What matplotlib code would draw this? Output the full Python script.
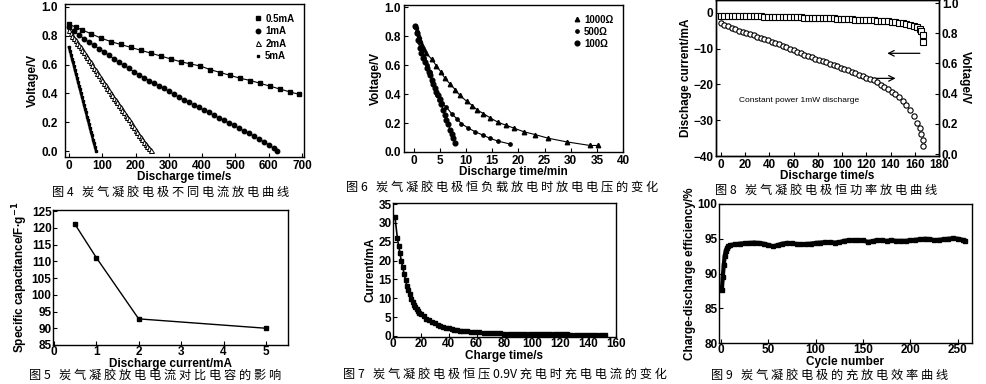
import matplotlib
matplotlib.use("Agg")
import matplotlib.pyplot as plt

plt.rcParams['font.family'] = ['Liberation Sans', 'DejaVu Sans']
plt.rcParams['font.weight'] = 'bold'
plt.rcParams['axes.labelweight'] = 'bold'
plt.rcParams['axes.linewidth'] = 1.0

# ---------------- Fig 4 data ----------------
f4_t_05 = [0, 20, 40, 65, 95, 125, 155, 185, 215, 245, 275, 305, 335, 365, 395, 425, 455, 485, 515, 545, 575, 605, 635, 665, 690]
f4_v_05 = [0.88, 0.86, 0.84, 0.815, 0.785, 0.76, 0.74, 0.72, 0.70, 0.68, 0.66, 0.64, 0.62, 0.605, 0.59, 0.565, 0.545, 0.525, 0.505, 0.49, 0.47, 0.45, 0.43, 0.41, 0.395]
f4_t_1 = [0, 15, 30, 45, 60, 75, 90, 105, 120, 135, 150, 165, 180, 195, 210, 225, 240, 255, 270, 285, 300, 315, 330, 345, 360, 375, 390, 405, 420, 435, 450, 465, 480, 495, 510, 525, 540, 555, 570, 585, 600, 615, 625]
f4_v_1 = [0.86, 0.83, 0.805, 0.78, 0.755, 0.735, 0.71, 0.69, 0.665, 0.64, 0.615, 0.595, 0.575, 0.55, 0.53, 0.51, 0.49, 0.47, 0.455, 0.435, 0.415, 0.395, 0.375, 0.355, 0.34, 0.32, 0.305, 0.285, 0.27, 0.25, 0.23, 0.215, 0.195, 0.18, 0.16, 0.14, 0.125, 0.105, 0.085, 0.065, 0.045, 0.02, 0.0]
f4_t_2 = [0, 5, 10, 15, 20, 25, 30, 35, 40, 45, 50, 55, 60, 65, 70, 75, 80, 85, 90, 95, 100, 105, 110, 115, 120, 125, 130, 135, 140, 145, 150, 155, 160, 165, 170, 175, 180, 185, 190, 195, 200, 205, 210, 215, 220, 225, 230, 235, 240, 245]
f4_v_2 = [0.84, 0.82, 0.80, 0.785, 0.77, 0.75, 0.735, 0.72, 0.70, 0.685, 0.665, 0.65, 0.635, 0.615, 0.60, 0.58, 0.565, 0.545, 0.53, 0.51, 0.495, 0.475, 0.46, 0.44, 0.425, 0.405, 0.39, 0.37, 0.355, 0.34, 0.32, 0.305, 0.285, 0.27, 0.25, 0.235, 0.22, 0.20, 0.185, 0.165, 0.15, 0.135, 0.115, 0.10, 0.085, 0.065, 0.05, 0.035, 0.02, 0.01]
f4_t_5 = [0, 3, 6, 9, 12, 15, 18, 21, 24, 27, 30, 33, 36, 39, 42, 45, 48, 51, 54, 57, 60, 63, 66, 69, 72, 75, 78, 81]
f4_v_5 = [0.72, 0.695, 0.67, 0.64, 0.615, 0.59, 0.56, 0.535, 0.51, 0.48, 0.455, 0.43, 0.40, 0.375, 0.35, 0.32, 0.295, 0.27, 0.24, 0.215, 0.19, 0.16, 0.135, 0.11, 0.08, 0.055, 0.03, 0.005]
f4_labels = ['0.5mA', '1mA', '2mA', '5mA']

# ---------------- Fig 6 data ----------------
f6_t_1000 = [0.4, 0.6, 0.9, 1.2, 1.5, 1.9, 2.4, 3.4, 4.3, 5.1, 5.9, 6.9, 7.9, 8.8, 10.1, 11.2, 12.1, 13.3, 14.6, 16.1, 17.6, 19.1, 21.0, 23.2, 25.7, 29.2, 33.7, 35.2]
f6_v_1000 = [0.87, 0.84, 0.80, 0.77, 0.74, 0.71, 0.68, 0.64, 0.595, 0.555, 0.51, 0.47, 0.43, 0.39, 0.35, 0.32, 0.29, 0.265, 0.235, 0.205, 0.185, 0.165, 0.14, 0.12, 0.095, 0.07, 0.045, 0.045]
f6_t_500 = [0.3, 0.6, 1.0, 1.5, 2.0, 2.5, 3.0, 3.5, 4.0, 4.5, 4.8, 5.3, 6.2, 7.2, 8.2, 9.1, 10.4, 11.7, 13.3, 14.5, 16.1, 18.4]
f6_v_500 = [0.86, 0.82, 0.76, 0.70, 0.65, 0.60, 0.55, 0.49, 0.44, 0.39, 0.36, 0.34, 0.31, 0.265, 0.23, 0.195, 0.165, 0.14, 0.115, 0.095, 0.075, 0.055]
f6_t_100 = [0.3, 0.5, 0.8, 1.1, 1.4, 1.8, 2.1, 2.5, 2.8, 3.1, 3.4, 3.7, 4.0, 4.3, 4.6, 4.9, 5.2, 5.6, 5.9, 6.2, 6.6, 6.9, 7.2, 7.5, 7.9]
f6_v_100 = [0.87, 0.82, 0.77, 0.72, 0.68, 0.65, 0.62, 0.58, 0.555, 0.53, 0.50, 0.47, 0.44, 0.415, 0.39, 0.365, 0.33, 0.29, 0.255, 0.22, 0.19, 0.155, 0.125, 0.095, 0.06]
f6_labels = ['1000Ω', '500Ω', '100Ω']

# ---------------- Fig 8 data ----------------
f8_t = [0, 3, 6, 9, 12, 15, 18, 21, 24, 27, 30, 33, 36, 39, 42, 45, 48, 51, 54, 57, 60, 63, 66, 69, 72, 75, 78, 81, 84, 87, 90, 93, 96, 99, 102, 105, 108, 111, 114, 117, 120, 123, 126, 129, 132, 135, 138, 141, 144, 147, 150, 153, 156, 159, 162, 164, 165.5, 166.5, 167]
f8_current = [-0.8, -0.8, -0.85, -0.85, -0.9, -0.9, -0.9, -0.95, -0.95, -1.0, -1.0, -1.0, -1.05, -1.05, -1.1, -1.1, -1.1, -1.15, -1.15, -1.2, -1.2, -1.25, -1.25, -1.3, -1.3, -1.35, -1.35, -1.4, -1.45, -1.5, -1.5, -1.55, -1.6, -1.65, -1.7, -1.75, -1.8, -1.85, -1.9, -1.95, -2.0, -2.05, -2.1, -2.15, -2.2, -2.3, -2.4, -2.5, -2.6, -2.75, -2.9, -3.05, -3.3, -3.6, -4.0, -4.5, -5.2, -6.2, -8.0]
f8_voltage = [0.868, 0.856, 0.845, 0.835, 0.826, 0.818, 0.81, 0.803, 0.795, 0.786, 0.778, 0.769, 0.761, 0.753, 0.744, 0.736, 0.727, 0.717, 0.707, 0.697, 0.688, 0.678, 0.668, 0.659, 0.649, 0.641, 0.632, 0.624, 0.615, 0.607, 0.598, 0.59, 0.581, 0.573, 0.564, 0.554, 0.545, 0.535, 0.526, 0.516, 0.506, 0.496, 0.487, 0.477, 0.46, 0.445, 0.428, 0.41, 0.395, 0.375, 0.35, 0.325, 0.29, 0.25, 0.205, 0.17, 0.13, 0.09, 0.055]

# ---------------- Fig 5 data ----------------
f5_current = [0.5, 1, 2, 5]
f5_capacitance = [121.0, 111.1, 92.8, 90.0]

# ---------------- Fig 7 data ----------------
f7_t = [1.4, 3.1, 4, 5, 6, 7, 8, 9, 10, 11, 12, 13, 14, 15, 16, 17, 18, 19, 20, 22, 24, 26, 28, 30, 32, 34, 36, 38, 40, 42, 44, 46, 48, 50, 53, 56, 59, 62, 65, 68, 71, 74, 77, 80, 83, 86, 89, 92, 95, 98, 101, 104, 107, 110, 113, 116, 119, 122, 125, 128, 131, 134, 137, 140, 143, 146, 149, 152]
f7_i = [31.6, 26.1, 24.0, 22.0, 19.8, 18.2, 16.5, 14.9, 13.3, 12.2, 11.0, 9.9, 9.0, 8.3, 7.7, 7.1, 6.6, 6.2, 5.8, 5.2, 4.6, 4.1, 3.7, 3.3, 3.0, 2.7, 2.4, 2.2, 2.0, 1.8, 1.65, 1.5, 1.4, 1.3, 1.2, 1.1, 1.0, 0.9, 0.85, 0.8, 0.75, 0.7, 0.65, 0.6, 0.58, 0.55, 0.5, 0.48, 0.46, 0.45, 0.44, 0.43, 0.42, 0.41, 0.4, 0.39, 0.38, 0.38, 0.37, 0.36, 0.36, 0.35, 0.35, 0.34, 0.34, 0.33, 0.33, 0.32]

# ---------------- Fig 9 data ----------------
f9_cycle = [1, 2, 3, 4, 5, 6, 8, 10, 15, 20, 25, 30, 35, 40, 45, 50, 55, 60, 65, 70, 75, 80, 85, 90, 95, 100, 105, 110, 115, 120, 125, 130, 135, 140, 145, 150, 155, 160, 165, 170, 175, 180, 185, 190, 195, 200, 205, 210, 215, 220, 225, 230, 235, 240, 245, 250, 255, 258]
f9_eff = [87.6, 89.5, 91.2, 92.5, 93.2, 93.6, 93.9, 94.1, 94.2, 94.3, 94.35, 94.4, 94.45, 94.4, 94.3, 94.1, 93.9, 94.1, 94.3, 94.4, 94.35, 94.25, 94.2, 94.25, 94.3, 94.4, 94.45, 94.5, 94.5, 94.45, 94.5, 94.7, 94.8, 94.8, 94.75, 94.75, 94.55, 94.65, 94.8, 94.75, 94.7, 94.75, 94.7, 94.7, 94.7, 94.75, 94.85, 94.9, 95.0, 94.95, 94.8, 94.85, 94.9, 95.0, 95.05, 95.0, 94.85, 94.7]

captions = [
    "图 4   炭 气 凝 胶 电 极 不 同 电 流 放 电 曲 线",
    "图 6   炭 气 凝 胶 电 极 恒 负 载 放 电 时 放 电 电 压 的 变 化",
    "图 8   炭 气 凝 胶 电 极 恒 功 率 放 电 曲 线",
    "图 5   炭 气 凝 胶 放 电 电 流 对 比 电 容 的 影 响",
    "图 7   炭 气 凝 胶 电 极 恒 压 0.9V 充 电 时 充 电 电 流 的 变 化",
    "图 9   炭 气 凝 胶 电 极 的 充 放 电 效 率 曲 线",
]

W, H = 986, 384
fig = plt.figure(figsize=(W / 100, H / 100), dpi=100)
fig.patch.set_facecolor('white')


def add_ax(l, t, r, b):
    return fig.add_axes([l / W, 1 - b / H, (r - l) / W, (b - t) / H])


def style(ax, ypad=2, xpad=2, fs=8.5):
    ax.tick_params(direction='in', length=3, width=0.8, labelsize=fs)
    ax.tick_params(axis='y', pad=ypad)
    ax.tick_params(axis='x', pad=xpad)


LBL = 8.5

# ---- Fig 4 ----
ax4 = add_ax(65, 4, 304, 157)
ax4.plot(f4_t_05, f4_v_05, color='k', lw=0.8, marker='s', ms=2.8, label=f4_labels[0])
ax4.plot(f4_t_1, f4_v_1, color='k', lw=0.8, marker='o', ms=3.2, label=f4_labels[1])
ax4.plot(f4_t_2, f4_v_2, color='k', lw=0.6, marker='^', ms=3.6, mfc='white', mew=0.7, label=f4_labels[2])
ax4.plot(f4_t_5, f4_v_5, color='k', lw=1.8, marker='s', ms=1.6, label=f4_labels[3])
ax4.set_xlim(-12, 706)
ax4.set_ylim(-0.04, 1.02)
ax4.set_xticks([0, 100, 200, 300, 400, 500, 600, 700])
ax4.set_yticks([0.0, 0.2, 0.4, 0.6, 0.8, 1.0])
style(ax4, ypad=5)
ax4.set_xlabel('Discharge time/s', fontsize=LBL, labelpad=-0.5)
ax4.set_ylabel('Voltage/V', fontsize=LBL, labelpad=2)
h = ax4.get_legend_handles_labels()
leg4 = ax4.legend(h[0], h[1], loc='upper right', frameon=False, fontsize=7, handlelength=0.6,
                  handletextpad=0.4, labelspacing=0.25, borderaxespad=0.6)
for ln in leg4.get_lines():
    ln.set_linestyle('none')

# ---- Fig 6 ----
ax6 = add_ax(404, 5, 623, 152)
ax6.plot(f6_t_1000, f6_v_1000, color='k', lw=0.8, marker='^', ms=3.2, label=f6_labels[0])
ax6.plot(f6_t_500, f6_v_500, color='k', lw=0.8, marker='o', ms=2.4, label=f6_labels[1])
ax6.plot(f6_t_100, f6_v_100, color='k', lw=0.8, marker='o', ms=3.4, label=f6_labels[2])
ax6.set_xlim(-1.9, 40)
ax6.set_ylim(0, 1.014)
ax6.set_xticks([0, 5, 10, 15, 20, 25, 30, 35, 40])
ax6.set_yticks([0.0, 0.2, 0.4, 0.6, 0.8, 1.0])
style(ax6, ypad=2)
ax6.set_xlabel('Discharge time/min', fontsize=LBL, labelpad=-0.5)
ax6.set_ylabel('Voltage/V', fontsize=LBL, labelpad=2)
leg6 = ax6.legend(loc='upper right', frameon=False, fontsize=7, handlelength=0.6,
                  handletextpad=0.4, labelspacing=0.2, borderaxespad=0.6)
for ln in leg6.get_lines():
    ln.set_linestyle('none')

# ---- Fig 8 ----
ax8 = add_ax(716, 0, 939, 156)
ax8.plot(f8_t, f8_current, linestyle='none', marker='s', ms=3.8, mfc='white', mec='k', mew=0.8)
ax8.set_xlim(-4, 180)
ax8.set_ylim(-40, 3.6)
ax8.set_xticks(list(range(0, 181, 20)))
ax8.set_yticks([0, -10, -20, -30, -40])
style(ax8, ypad=2)
ax8.set_xlabel('Discharge time/s', fontsize=LBL, labelpad=-0.5)
ax8.set_ylabel('Dischage current/mA', fontsize=LBL, labelpad=1)
ax8r = ax8.twinx()
ax8r.plot(f8_t, f8_voltage, linestyle='none', marker='o', ms=3.8, mfc='white', mec='k', mew=0.8)
ax8r.set_ylim(-0.013, 1.02)
ax8r.set_yticks([0.0, 0.2, 0.4, 0.6, 0.8, 1.0])
ax8r.tick_params(direction='in', length=3, width=0.8, labelsize=8.5, pad=2)
ax8r.set_ylabel('Voltage/V', fontsize=LBL, rotation=270, labelpad=9)
ax8.annotate('', xy=(135, -11.3), xytext=(166.5, -11.3),
             arrowprops=dict(arrowstyle='->', lw=0.9, color='k'))
ax8.annotate('', xy=(146.5, -18.3), xytext=(113.5, -18.3),
             arrowprops=dict(arrowstyle='->', lw=0.9, color='k'))
ax8.text(15, -24.6, 'Constant power 1mW discharge', fontsize=6, fontweight='normal', va='center')

# ---- Fig 5 ----
ax5 = add_ax(53, 210, 288, 345)
ax5.plot(f5_current, f5_capacitance, color='k', lw=1.0, marker='s', ms=3)
ax5.set_xlim(-0.02, 5.52)
ax5.set_ylim(85, 125.3)
ax5.set_xticks([0, 1, 2, 3, 4, 5])
ax5.set_yticks(list(range(85, 126, 5)))
style(ax5, ypad=1, xpad=1)
ax5.set_xlabel('Discharge current/mA', fontsize=LBL, labelpad=-0.3)
ax5.set_ylabel('Specific capacitance/F·g$^{-1}$', fontsize=LBL, labelpad=1)

# ---- Fig 7 ----
ax7 = add_ax(393, 203, 616, 337)
ax7.plot(f7_t, f7_i, color='k', lw=1.2, marker='s', ms=2.4)
ax7.set_xlim(0, 160)
ax7.set_ylim(-0.3, 35.3)
ax7.set_xticks(list(range(0, 161, 20)))
ax7.set_yticks(list(range(0, 36, 5)))
style(ax7, ypad=1, xpad=1)
ax7.set_xlabel('Charge time/s', fontsize=LBL, labelpad=-0.3)
ax7.set_ylabel('Current/mA', fontsize=LBL, labelpad=1)

# ---- Fig 9 ----
ax9 = add_ax(719, 204, 972, 343)
ax9.plot(f9_cycle, f9_eff, color='k', lw=3.0, marker='s', ms=2.8)
ax9.set_xlim(-2, 265)
ax9.set_ylim(80, 100)
ax9.set_xticks([0, 50, 100, 150, 200, 250])
ax9.set_yticks([80, 85, 90, 95, 100])
style(ax9, ypad=1, xpad=1)
ax9.set_xlabel('Cycle number', fontsize=LBL, labelpad=-0.3)
ax9.set_ylabel('Charge-discharge efficiency/%', fontsize=LBL, labelpad=1)

# ---- Captions ----
cap_pos = [(171, 192), (502, 188), (826, 190), (155, 375), (505, 375), (830, 375)]
for (cx, cy), txt in zip(cap_pos, captions):
    fig.text(cx / W, 1 - cy / H, txt, ha='center', va='center', fontsize=8.8,
             family=['Noto Sans CJK SC', 'DejaVu Sans'], fontweight='normal')

fig.savefig('out.png', dpi=100, facecolor='white')
